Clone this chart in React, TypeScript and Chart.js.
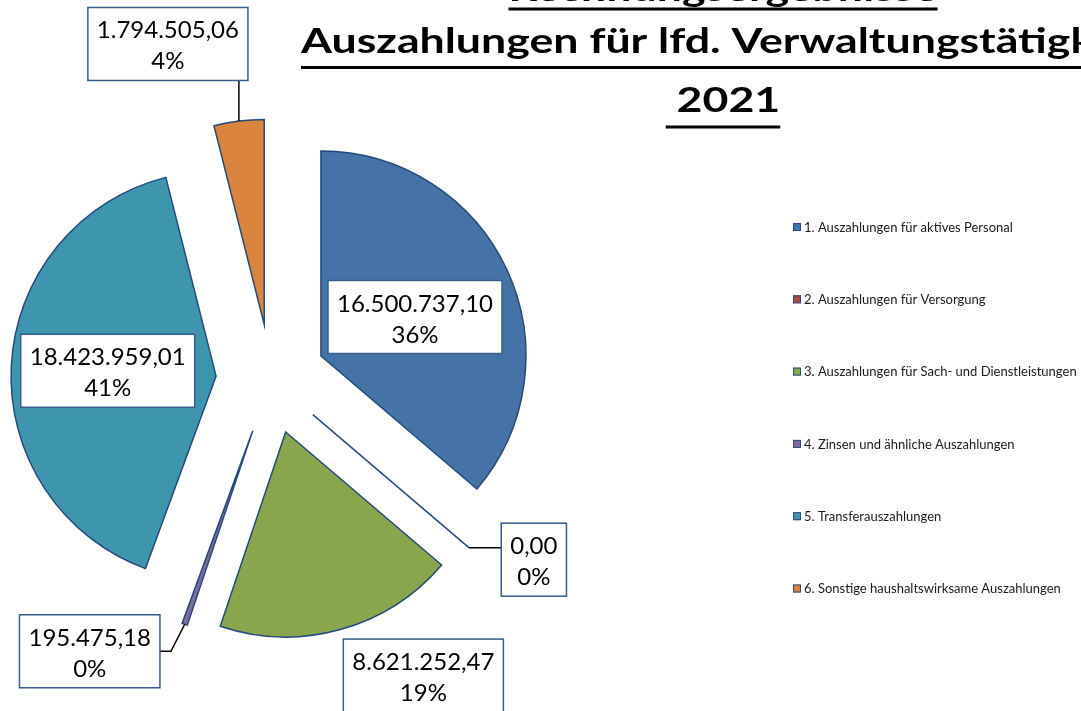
import React, { useEffect, useRef } from "react";
import { Chart, registerables } from "chart.js";

Chart.register(...registerables);

// ---------- data ----------
const categories = [
  "1. Auszahlungen für aktives Personal",
  "2. Auszahlungen für Versorgung",
  "3. Auszahlungen für Sach- und Dienstleistungen",
  "4. Zinsen und ähnliche Auszahlungen",
  "5. Transferauszahlungen",
  "6. Sonstige haushaltswirksame Auszahlungen",
];
const values = [16500737.1, 0, 8621252.47, 195475.18, 18423959.01, 1794505.06];
const percentLabels = ["36%", "0%", "19%", "0%", "41%", "4%"];
const titleLines = ["Rechnungsergebnisse", "Auszahlungen für lfd. Verwaltungstätigkeit", " 2021"];

// ---------- styles / layout ----------
const colors = ["#4572A7", "#AA4643", "#89A54E", "#80699B", "#3D96AE", "#DB843D"];
const FONT = "Lato, 'Open Sans', sans-serif";
const BORDER = "#244A7C";
const LABEL_BORDER = "#385D8A";
const EXPLODE = 55;
const RADIUS = 205;
const PADX = 9;
const BOX_H = 73;

type Placement = { mode: "inside" | "outside"; dx: number; dy: number; leader?: "left" | "bottom" | "elbowRight" };
const labelPlacement: Placement[] = [
  { mode: "inside", dx: 1, dy: 4 },
  { mode: "outside", dx: 65, dy: 12, leader: "left" },
  { mode: "outside", dx: 83, dy: 46 },
  { mode: "outside", dx: -95, dy: 27, leader: "elbowRight" },
  { mode: "inside", dx: -6, dy: 0 },
  { mode: "outside", dx: -71, dy: -77, leader: "bottom" },
];

function fmtDE(v: number): string {
  const [i, d] = v.toFixed(2).split(".");
  return i.replace(/\B(?=(\d{3})+(?!\d))/g, ".") + "," + d;
}

const explodePlugin = {
  id: "explode",
  afterDatasetsUpdate(chart: any) {
    const meta = chart.getDatasetMeta(0);
    meta.data.forEach((arc: any) => {
      const mid = (arc.startAngle + arc.endAngle) / 2;
      arc.x += Math.cos(mid) * EXPLODE;
      arc.y += Math.sin(mid) * EXPLODE;
    });
  },
};

const labelPlugin = {
  id: "boxLabels",
  afterDatasetsDraw(chart: any) {
    const ctx: CanvasRenderingContext2D = chart.ctx;
    const meta = chart.getDatasetMeta(0);
    ctx.save();
    // zero-value slices drawn as a single radial line
    meta.data.forEach((arc: any, i: number) => {
      if (values[i] === 0) {
        ctx.strokeStyle = BORDER;
        ctx.lineWidth = 1.5;
        ctx.beginPath();
        ctx.moveTo(arc.x, arc.y);
        ctx.lineTo(
          arc.x + Math.cos(arc.startAngle) * arc.outerRadius,
          arc.y + Math.sin(arc.startAngle) * arc.outerRadius
        );
        ctx.stroke();
      }
    });
    ctx.font = `24px ${FONT}`;
    meta.data.forEach((arc: any, i: number) => {
      const lines = [fmtDE(values[i]), percentLabels[i]];
      const p = labelPlacement[i];
      const mid = (arc.startAngle + arc.endAngle) / 2;
      const ox = arc.x + Math.cos(mid) * arc.outerRadius;
      const oy = arc.y + Math.sin(mid) * arc.outerRadius;
      let cx: number, cy: number;
      if (p.mode === "inside") {
        const tp = arc.tooltipPosition();
        cx = tp.x + p.dx;
        cy = tp.y + p.dy;
      } else {
        cx = ox + p.dx;
        cy = oy + p.dy;
      }
      const tw = Math.max(...lines.map((l) => ctx.measureText(l).width));
      const w = tw + 2 * PADX;
      const h = BOX_H;
      const left = cx - w / 2;
      const top = cy - h / 2;
      const right = left + w;
      const bottom = top + h;
      if (p.leader) {
        ctx.strokeStyle = "#000";
        ctx.lineWidth = 1.5;
        ctx.beginPath();
        ctx.moveTo(ox, oy);
        if (p.leader === "left") {
          ctx.lineTo(left, Math.min(Math.max(oy, top), bottom));
        } else if (p.leader === "bottom") {
          ctx.lineTo(Math.min(Math.max(ox, left), right), bottom);
        } else {
          ctx.lineTo(right + 11, cy);
          ctx.lineTo(right, cy);
        }
        ctx.stroke();
      }
      ctx.fillStyle = "#fff";
      ctx.fillRect(left, top, w, h);
      ctx.strokeStyle = LABEL_BORDER;
      ctx.lineWidth = 1.5;
      ctx.strokeRect(left, top, w, h);
      ctx.fillStyle = "#000";
      ctx.textAlign = "center";
      ctx.textBaseline = "alphabetic";
      ctx.fillText(lines[0], cx, top + 31);
      ctx.fillText(lines[1], cx, top + 62);
    });
    ctx.restore();
  },
};

const titlePlugin = {
  id: "excelTitle",
  afterDraw(chart: any) {
    const ctx: CanvasRenderingContext2D = chart.ctx;
    ctx.save();
    ctx.font = `bold 35px ${FONT}`;
    const sx = 844 / ctx.measureText(titleLines[1]).width;
    const baselines = [1, 53, 112];
    const underlineOffsets = [6.5, 13, 13.5];
    const centerX = 723;
    titleLines.forEach((line, i) => {
      const w = ctx.measureText(line).width;
      ctx.save();
      ctx.translate(centerX, baselines[i]);
      ctx.scale(sx, 1);
      ctx.fillStyle = "#000";
      ctx.textAlign = "center";
      ctx.textBaseline = "alphabetic";
      ctx.fillText(line, 0, 0);
      ctx.fillRect(-w / 2, underlineOffsets[i], w, 3);
      ctx.restore();
    });
    ctx.restore();
  },
};

const legendPlugin = {
  id: "excelLegend",
  afterDraw(chart: any) {
    const ctx: CanvasRenderingContext2D = chart.ctx;
    const ds = chart.data.datasets[0];
    ctx.save();
    ctx.font = `13px ${FONT}`;
    ctx.textAlign = "left";
    ctx.textBaseline = "middle";
    (chart.data.labels as string[]).forEach((label, i) => {
      const y = 227 + i * 72.3;
      ctx.fillStyle = ds.backgroundColor[i];
      ctx.fillRect(793, y - 4, 8, 8);
      ctx.strokeStyle = "#2B4C7E";
      ctx.lineWidth = 1;
      ctx.strokeRect(793.5, y - 3.5, 7, 7);
      ctx.fillStyle = "#1a1a1a";
      ctx.fillText(label, 804, y + 0.5);
    });
    ctx.restore();
  },
};

export default function App() {
  const ref = useRef<HTMLCanvasElement>(null);
  useEffect(() => {
    document.body.style.margin = "0";
    const canvas = ref.current!;
    const chart = new Chart(canvas, {
      type: "pie",
      data: {
        labels: categories,
        datasets: [
          {
            data: values,
            backgroundColor: colors,
            borderColor: BORDER,
            borderWidth: 1.5,
            borderJoinStyle: "miter",
            radius: RADIUS,
          } as any,
        ],
      },
      options: {
        responsive: false,
        animation: false,
        devicePixelRatio: 1,
        events: [],
        layout: { padding: { left: 0, top: 47, right: 539, bottom: 0 } },
        plugins: {
          legend: { display: false },
          title: { display: false },
          tooltip: { enabled: false },
        },
      },
      plugins: [explodePlugin, labelPlugin, titlePlugin, legendPlugin],
    });
    return () => chart.destroy();
  }, []);
  return (
    <div style={{ position: "fixed", left: 0, top: 0, width: 1081, height: 711, background: "#fff" }}>
      <canvas ref={ref} width={1081} height={711} style={{ display: "block", width: 1081, height: 711 }} />
    </div>
  );
}
